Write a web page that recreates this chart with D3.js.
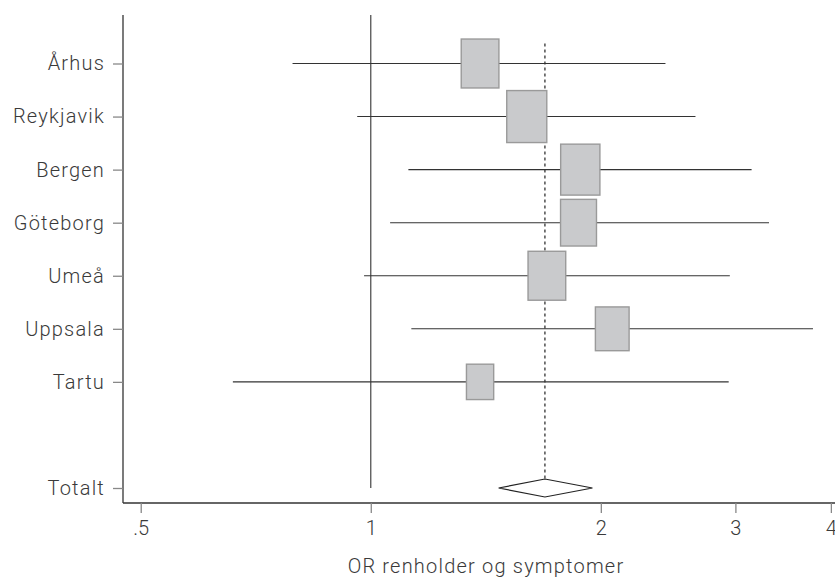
<!DOCTYPE html>
<html>
<head>
<meta charset="utf-8">
<script src="https://d3js.org/d3.v7.min.js"></script>
<style>
  body { margin: 0; background: #fff; }
  svg { display: block; background: #fff; }
  text { font-family: Roboto, "DejaVu Sans", sans-serif; font-weight: 300; fill: #3a3a3a; letter-spacing: 1.2px; }
  .ci { stroke: #333; stroke-width: 1.1; }
  .box { fill: #c9cacc; stroke: #9a9a9a; stroke-width: 1.4; }
  .axis path { stroke: #333; stroke-width: 1.3; }
  .axis line { stroke: #888; stroke-width: 1.3; }
</style>
</head>
<body>
<svg id="chart" width="835" height="579"></svg>
<script>
// study data (odds ratio, 95% CI, weight %)
const cities  = ["Århus", "Reykjavik", "Bergen", "Göteborg", "Umeå", "Uppsala", "Tartu"];
const oddsRat = [1.39, 1.60, 1.88, 1.87, 1.70, 2.07, 1.39];
const ciLow   = [0.79, 0.96, 1.12, 1.06, 0.98, 1.13, 0.66];
const ciHigh  = [2.43, 2.66, 3.15, 3.32, 2.95, 3.79, 2.94];
const weights = [15.5, 17.5, 16.8, 14.1, 15.5, 12.4, 8.1];

// pooled estimate
const totalLabel = "Totalt";
const totalOR = 1.69, totalLow = 1.47, totalHigh = 1.95;

const xTicks = [0.5, 1, 2, 3, 4];
const xTickLabels = [".5", "1", "2", "3", "4"];
const xTitle = "OR renholder og symptomer";

const svg = d3.select("#chart");
const plotLeft = 123, plotRight = 835, plotTop = 15, axisY = 503;

const x = d3.scaleLog().domain([0.474, 4.05]).range([plotLeft, plotRight]);
// rows 0..6 for studies, a gap, then row 8 for the total
const y = d3.scaleLinear().domain([0, 8]).range([63.5, 488]);
const size = d3.scaleSqrt().domain([0, 17.5]).range([0, 52]);

const studies = cities.map((c, i) => ({
  name: c, or: oddsRat[i], lo: ciLow[i], hi: ciHigh[i], w: weights[i], row: i
}));

// axes
svg.append("g")
  .attr("class", "axis")
  .attr("transform", `translate(0,${axisY})`)
  .call(d3.axisBottom(x).tickValues(xTicks)
        .tickFormat((d, i) => xTickLabels[i]).tickSize(10).tickSizeOuter(0).tickPadding(8))
  .call(g => g.select(".domain").attr("d", `M${plotLeft},0H${plotRight}`))
  .call(g => g.selectAll("text").attr("font-size", 20).style("letter-spacing", "0px"));

const rowVals = studies.map(d => d.row).concat([8]);
const rowNames = cities.concat([totalLabel]);
svg.append("g")
  .attr("class", "axis")
  .attr("transform", `translate(${plotLeft},0)`)
  .call(d3.axisLeft(y).tickValues(rowVals)
        .tickFormat((d, i) => rowNames[i]).tickSize(10).tickSizeOuter(0).tickPadding(8))
  .call(g => g.select(".domain").attr("d", `M0,${plotTop}V${axisY}`))
  .call(g => g.selectAll("text").attr("font-size", 20));

svg.selectAll(".axis text").attr("fill", "#3a3a3a").attr("font-family", null);

svg.append("text")
  .attr("x", 486).attr("y", 573)
  .attr("text-anchor", "middle")
  .attr("font-size", 20)
  .text(xTitle);

// null line at OR = 1
svg.append("line")
  .attr("x1", x(1)).attr("x2", x(1))
  .attr("y1", plotTop).attr("y2", y(8))
  .attr("stroke", "#444").attr("stroke-width", 1.2);

// pooled estimate dashed line
svg.append("line")
  .attr("x1", x(totalOR)).attr("x2", x(totalOR))
  .attr("y1", y(0) - 20).attr("y2", y(8) - 9)
  .attr("stroke", "#222").attr("stroke-width", 1.2)
  .attr("stroke-dasharray", "3,3");

// confidence intervals
svg.selectAll(".ci")
  .data(studies)
  .join("line")
  .attr("class", "ci")
  .attr("x1", d => x(d.lo)).attr("x2", d => x(d.hi))
  .attr("y1", d => y(d.row)).attr("y2", d => y(d.row));

// weight boxes
svg.selectAll(".box")
  .data(studies)
  .join("rect")
  .attr("class", "box")
  .attr("width", d => size(d.w) * 0.77)
  .attr("height", d => size(d.w))
  .attr("x", d => x(d.or) - size(d.w) * 0.77 / 2)
  .attr("y", d => y(d.row) - size(d.w) / 2);

// pooled diamond
const cy = y(8);
svg.append("path")
  .attr("d", `M${x(totalLow)},${cy}L${x(totalOR)},${cy - 9}L${x(totalHigh)},${cy}L${x(totalOR)},${cy + 9}Z`)
  .attr("fill", "#fff").attr("stroke", "#222").attr("stroke-width", 1.2);
</script>
</body>
</html>
